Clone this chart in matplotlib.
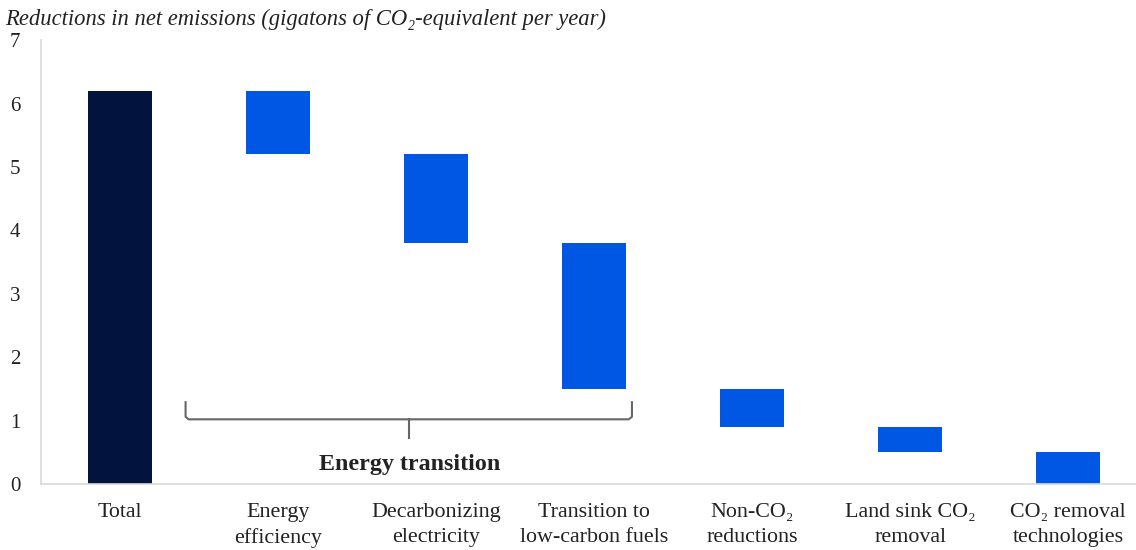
import numpy as np
import matplotlib.pyplot as plt
from matplotlib import rc

rc('font', family = 'Liberation Serif', size = 13)

categories = ['Total', 'Energy\nefficiency', 'Decarbonizing\nelectricity',
              'Transition to\nlow-carbon fuels', 'Non-CO\u2082\nreductions',
              'Land sink CO\u2082\nremoval', 'CO\u2082 removal\ntechnologies']
total = 6.2
reductions = [1.0, 1.4, 2.3, 0.6, 0.4, 0.5]

navy = '#02133d'
blue = '#0057e3'

fig = plt.figure(figsize = (11.36, 5.5), dpi = 100)
ax = fig.add_axes([41 / 1136, 0.12, 1 - 41 / 1136, 0.807])

x = np.arange(len(categories))
tops = total - np.concatenate([[0], np.cumsum(reductions)[:-1]])
ax.bar(x[0], total, width = 0.4, color = navy)
ax.bar(x[1:], reductions, bottom = tops - reductions, width = 0.4, color = blue)

ax.set_xlim(-0.5, 6.43)
ax.set_ylim(0, 7)
ax.set_yticks(range(8))
ax.set_xticks(x)
ax.set_xticklabels(categories, fontsize = 15.8, linespacing = 1.4)
ax.tick_params(axis = 'both', length = 0, colors = '#222222')
ax.tick_params(axis = 'x', pad = 14)
ax.tick_params(axis = 'y', pad = 15, labelsize = 15)

for s in ['top', 'right']:
    ax.spines[s].set_visible(False)
for s in ['left', 'bottom']:
    ax.spines[s].set_color('#d9d9d9')
    ax.spines[s].set_linewidth(1.2)

# bracket under the energy transition bars
bx0, bx1, bxm = 0.415, 3.24, 1.83
gray = '#666666'
ax.plot([bx0, bx0, bx0 + 0.02, bx1 - 0.02, bx1, bx1],
        [1.29, 1.06, 1.02, 1.02, 1.06, 1.29], color = gray, lw = 1.5,
        solid_joinstyle = 'round')
ax.plot([bxm, bxm], [1.02, 0.73], color = gray, lw = 1.5)
ax.text(bxm, 0.3, 'Energy transition', ha = 'center', va = 'center',
        fontsize = 17.3, fontweight = 'bold', color = '#222222')

fig.text(5 / 1136, 1 - 19 / 550,
         'Reductions in net emissions (gigatons of CO\u2082-equivalent per year)',
         ha = 'left', va = 'center', style = 'italic', fontsize = 16.3,
         color = '#222222')

plt.savefig('out.png', dpi = 100)
